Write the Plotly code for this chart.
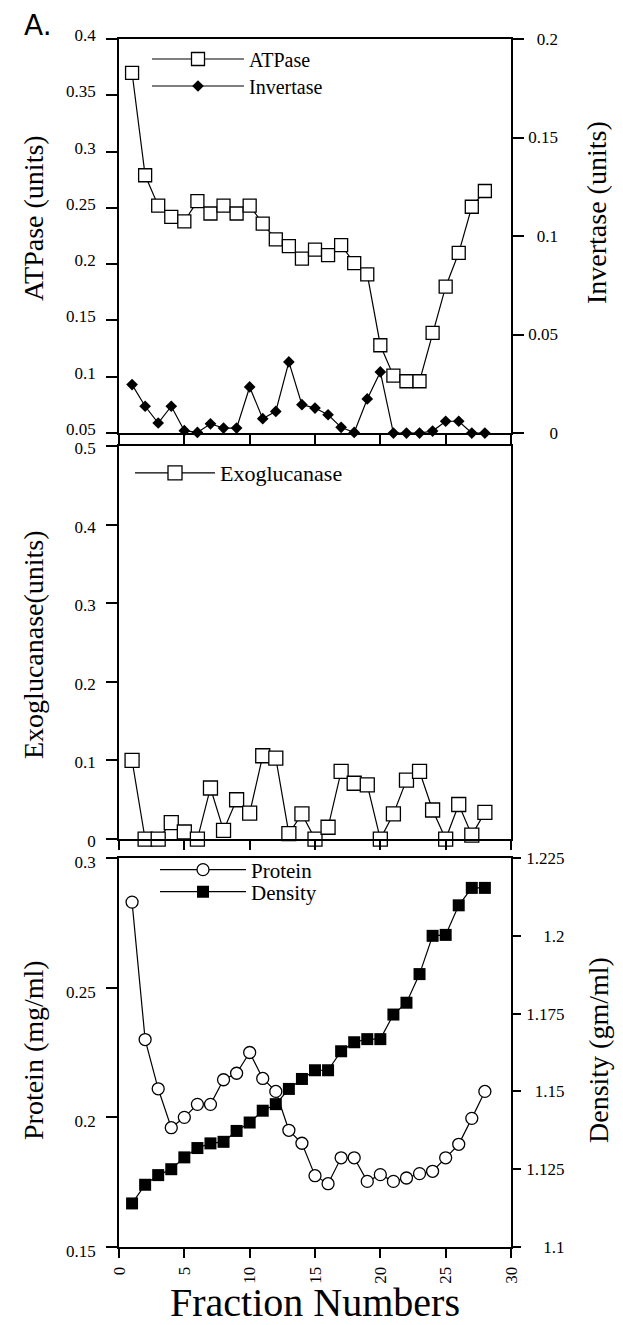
import plotly.graph_objects as go

fractions = list(range(1, 29))

atpase = [0.370, 0.279, 0.252, 0.242, 0.238, 0.256, 0.245, 0.252, 0.245, 0.252,
          0.236, 0.222, 0.216, 0.205, 0.213, 0.208, 0.217, 0.201, 0.191, 0.128,
          0.101, 0.096, 0.096, 0.139, 0.180, 0.210, 0.251, 0.265]

invertase = [0.0246, 0.0136, 0.0051, 0.0136, 0.0012, 0.0003, 0.0047, 0.0025, 0.0025, 0.0234,
             0.0073, 0.0110, 0.0361, 0.0144, 0.0127, 0.0093, 0.0029, 0.0003, 0.0173, 0.0310,
             0.0, 0.0, 0.0, 0.0010, 0.0060, 0.0060, 0.0, 0.0]

exoglucanase = [0.100, 0.0, 0.0, 0.021, 0.009, 0.0, 0.065, 0.011, 0.050, 0.033,
                0.106, 0.103, 0.007, 0.032, 0.0, 0.015, 0.086, 0.071, 0.069, 0.0,
                0.032, 0.075, 0.086, 0.037, 0.0, 0.044, 0.005, 0.034]

protein = [0.283, 0.230, 0.211, 0.196, 0.200, 0.205, 0.205, 0.2145, 0.217, 0.225,
           0.215, 0.210, 0.195, 0.190, 0.1775, 0.1744, 0.1844, 0.1844, 0.1753, 0.1779,
           0.1753, 0.1766, 0.1783, 0.1792, 0.1844, 0.1896, 0.1996, 0.210]

density = [1.1140, 1.1200, 1.1231, 1.1250, 1.1288, 1.1318, 1.1333, 1.1338, 1.1373, 1.1400,
           1.1438, 1.1459, 1.1508, 1.1540, 1.1568, 1.1568, 1.1629, 1.1658, 1.1668, 1.1668,
           1.1747, 1.1785, 1.1877, 1.2000, 1.2003, 1.2098, 1.2154, 1.2154]

# right-axis tick labels (right-aligned in the reference)
invertase_tickvals = [0, 0.05, 0.1, 0.15, 0.2]
invertase_ticklabels = ["0", "0.05", "0.1", "0.15", "0.2"]
density_tickvals = [1.1, 1.125, 1.15, 1.175, 1.2, 1.225]
density_ticklabels = ["1.1", "1.125", "1.15", "1.175", "1.2", "1.225"]

FIG_SP = "\u2007"   # digit-width space
PUNC_SP = "\u2008"  # period-width space


def right_align(labels):
    def units(s):
        return sum(0.5 if c == "." else 1.0 for c in s)
    widest = max(units(s) for s in labels)
    out = []
    for s in labels:
        gap = widest - units(s)
        n_fig = int(gap)
        n_punc = 1 if gap - n_fig >= 0.5 else 0
        out.append(FIG_SP * n_fig + PUNC_SP * n_punc + s)
    return out


SERIF = "Liberation Serif, Times New Roman, Times, serif"
BLACK = "black"
LW = 1.2

fig = go.Figure()


def open_marker(symbol, size):
    return dict(symbol=symbol, size=size, color="white", line=dict(color=BLACK, width=1.3))


def filled_marker(symbol, size):
    return dict(symbol=symbol, size=size, color=BLACK, line=dict(color=BLACK, width=0))


fig.add_trace(go.Scatter(x=fractions, y=atpase, name="ATPase", mode="lines+markers",
                         line=dict(color=BLACK, width=LW), marker=open_marker("square", 13),
                         xaxis="x", yaxis="y", legend="legend", cliponaxis=False))
fig.add_trace(go.Scatter(x=fractions, y=invertase, name="Invertase", mode="lines+markers",
                         line=dict(color=BLACK, width=LW), marker=filled_marker("diamond", 9),
                         xaxis="x", yaxis="y2", legend="legend2", cliponaxis=False))
fig.add_trace(go.Scatter(x=fractions, y=exoglucanase, name="Exoglucanase", mode="lines+markers",
                         line=dict(color=BLACK, width=LW), marker=open_marker("square", 14),
                         xaxis="x2", yaxis="y3", legend="legend3", cliponaxis=False))
fig.add_trace(go.Scatter(x=fractions, y=protein, name="Protein", mode="lines+markers",
                         line=dict(color=BLACK, width=LW), marker=open_marker("circle", 12),
                         xaxis="x3", yaxis="y4", legend="legend4", cliponaxis=False))
fig.add_trace(go.Scatter(x=fractions, y=density, name="Density", mode="lines+markers",
                         line=dict(color=BLACK, width=LW), marker=filled_marker("square", 12),
                         xaxis="x3", yaxis="y5", legend="legend5", cliponaxis=False))

tickfont = dict(family=SERIF, size=17, color=BLACK)
titlefont = dict(family=SERIF, size=28, color=BLACK)

base = dict(showline=True, linecolor=BLACK, linewidth=1.8, ticks="outside",
            tickwidth=1.6, tickcolor=BLACK, showgrid=False, automargin=False,
            zeroline=False, tickfont=tickfont)
xbase = dict(**base, ticklen=9, domain=[0, 1], range=[0, 30], dtick=5, mirror=True)
ybase = dict(**base, ticklen=11)

top_dom = [0.6738, 1.0]
mid_dom = [0.3377, 0.6630]
bot_dom = [0.0, 0.3220]

PLOT_L, PLOT_W, PLOT_B, PLOT_H = 119, 392, 1247, 1208


def px_x(px):
    return (px - PLOT_L) / PLOT_W


def px_y(py):
    return (PLOT_B - py) / PLOT_H


def leg(x_px, y_px, size, width):
    return dict(x=px_x(x_px), y=px_y(y_px), xanchor="left", yanchor="middle",
                bgcolor="rgba(0,0,0,0)", borderwidth=0,
                font=dict(family=SERIF, size=size, color=BLACK), itemwidth=width)


def ytitle(text, x_px, y_px):
    return dict(text=text, x=px_x(x_px), y=px_y(y_px), xref="paper", yref="paper",
                xanchor="center", yanchor="middle", textangle=-90, showarrow=False,
                font=titlefont)


fig.update_layout(
    width=623, height=1325,
    margin=dict(l=119, r=112, t=39, b=78),
    paper_bgcolor="white", plot_bgcolor="white",
    showlegend=True,
    xaxis=dict(**xbase, anchor="y", showticklabels=False),
    yaxis=dict(**ybase, domain=top_dom, range=[0.05, 0.4], dtick=0.05, anchor="x",
               ticklabelstandoff=7, ticklabelshift=-4),
    yaxis2=dict(**ybase, range=[0, 0.2], anchor="x", overlaying="y", side="right",
                tickmode="array", tickvals=invertase_tickvals,
                ticktext=right_align(invertase_ticklabels), ticklabelstandoff=1),
    xaxis2=dict(**xbase, anchor="y3", showticklabels=False),
    yaxis3=dict(**ybase, domain=mid_dom, range=[0, 0.5], dtick=0.1, anchor="x2",
                mirror=True, ticklabelstandoff=7, ticklabelshift=2),
    xaxis3=dict(**xbase, anchor="y4", tickangle=-90, ticklabelstandoff=2,
                title=dict(text="Fraction Numbers", font=dict(family=SERIF, size=40, color=BLACK),
                           standoff=1)),
    yaxis4=dict(**ybase, domain=bot_dom, range=[0.15, 0.3], dtick=0.05, anchor="x3",
                ticklabelstandoff=7, ticklabelshift=4),
    yaxis5=dict(**{**ybase, "ticklen": 8}, range=[1.1, 1.225], anchor="x3", overlaying="y4",
                side="right", tickmode="array", tickvals=density_tickvals,
                ticktext=right_align(density_ticklabels), ticklabelstandoff=2),
    legend=leg(147, 59, 20, 92),
    legend2=leg(147, 86, 20, 92),
    legend3=leg(130, 473, 22, 80),
    legend4=leg(155, 870, 21, 86),
    legend5=leg(155, 892, 21, 86),
    annotations=[
        dict(text="A.", x=px_x(38), y=px_y(25), xref="paper", yref="paper",
             xanchor="center", yanchor="middle", showarrow=False,
             font=dict(family="DejaVu Sans", size=28, color=BLACK)),
        ytitle("ATPase (units)", 33, 218),
        ytitle("Invertase (units)", 596, 213),
        ytitle("Exoglucanase(units)", 33, 645),
        ytitle("Protein (mg/ml)", 33, 1050),
        ytitle("Density (gm/ml)", 598, 1050),
    ],
)

fig.write_html("out.html", config={"displayModeBar": False},
               post_script="document.body.style.margin='0';")
